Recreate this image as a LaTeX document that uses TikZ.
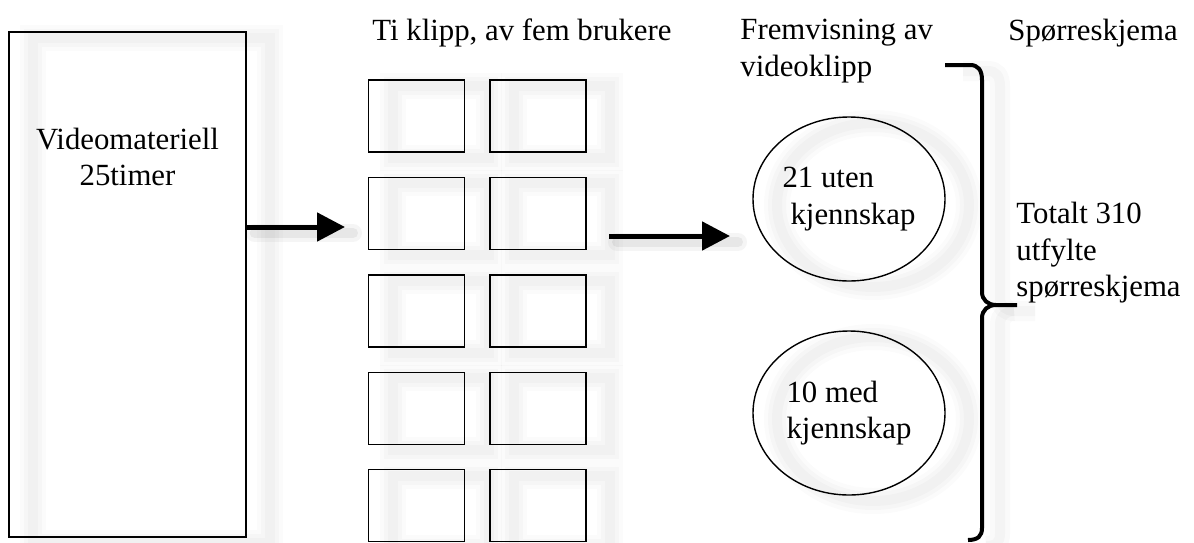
\documentclass[tikz,border=0pt]{standalone}
\usepackage{fontspec}
\setmainfont{Liberation Serif}
\usetikzlibrary{positioning,arrows.meta,shapes.geometric}

\begin{document}
\begin{tikzpicture}[
  x=0.5pt, y=-0.5pt,
  node distance=12pt,
  txt/.style={inner sep=0pt, font=\fontsize{15.4}{18.2}\selectfont},
  ghost/.style={
    preaction={draw=black, draw opacity=0.015, line width=13pt, transform canvas={xshift=12pt, yshift=-3pt}},
    preaction={draw=black, draw opacity=0.018, line width=9pt, transform canvas={xshift=12pt, yshift=-3pt}},
    preaction={draw=black, draw opacity=0.02, line width=5pt, transform canvas={xshift=12pt, yshift=-3pt}}},
  bigbox/.style={draw, line width=0.7pt, minimum width=118.5pt, minimum height=252.5pt, ghost},
  clipbox/.style={draw, line width=0.7pt, minimum width=48pt, minimum height=36pt, inner sep=0pt, ghost},
  oval/.style={ellipse, draw, line width=0.7pt, minimum width=96pt, minimum height=82pt, align=left, txt, ghost},
  arrow/.style={line width=2.5pt, -{Triangle[length=14pt,width=14pt]},
    preaction={-, draw=black, draw opacity=0.04, line width=9pt, line cap=round, transform canvas={xshift=4pt, yshift=-3pt}},
    preaction={-, draw=black, draw opacity=0.06, line width=5pt, line cap=round, transform canvas={xshift=4pt, yshift=-3pt}}},
  brace/.style={line width=2pt,
    preaction={draw=black, draw opacity=0.02, line width=10pt, transform canvas={xshift=9pt, yshift=-3pt}},
    preaction={draw=black, draw opacity=0.025, line width=5pt, transform canvas={xshift=9pt, yshift=-3pt}}}
]
\useasboundingbox (0,0) rectangle (1194,542);

% headings
\node[txt, anchor=base west] (cliptitle) at (372,40) {Ti klipp, av fem brukere};
\node[txt, anchor=north west, align=left] (showtitle) at (740,19) {Fremvisning av\\videoklipp};
\node[txt, anchor=base west] (formtitle) at (1008,40) {Spørreskjema};

% source material
\node[bigbox] (video) at (127.5,284.5) {};
\node[txt, align=center] (videotxt) at (127.5,157) {Videomateriell\\25timer};

% ten clips
\node[clipbox] (c11) at (416.5,116) {};
\node[clipbox, right=of c11] (c12) {};
\node[clipbox, below=of c11] (c21) {};
\node[clipbox, right=of c21] (c22) {};
\node[clipbox, below=of c21] (c31) {};
\node[clipbox, right=of c31] (c32) {};
\node[clipbox, below=of c31] (c41) {};
\node[clipbox, right=of c41] (c42) {};
\node[clipbox, below=of c41] (c51) {};
\node[clipbox, right=of c51] (c52) {};

% viewer groups
\node[oval] (without) at (849,199) {21 uten\\\hspace*{4pt}kjennskap};
\node[oval] (with) at (849,413) {10 med\\kjennskap};

% arrows
\coordinate (tip1) at (345,227);
\coordinate (tail2) at (609,236);
\coordinate (tip2) at (730,236);
\draw[arrow] (video.east |- tip1) -- (tip1);
\draw[arrow] (tail2) -- (tip2);

% brace and total
\draw[brace] (945,65) -- (970,65) .. controls (978,65) and (982,70) .. (982,80) -- (982,292)
  .. controls (982,300) and (988,305) .. (996,305) -- (1017,305);
\draw[brace] (996,305) .. controls (988,305) and (982,310) .. (982,318) -- (982,528)
  .. controls (982,536) and (978,540) .. (968,540);
\node[txt, anchor=north west, align=left] (total) at (1016,202) {Totalt 310\\utfylte\\spørreskjema};
\end{tikzpicture}
\end{document}
